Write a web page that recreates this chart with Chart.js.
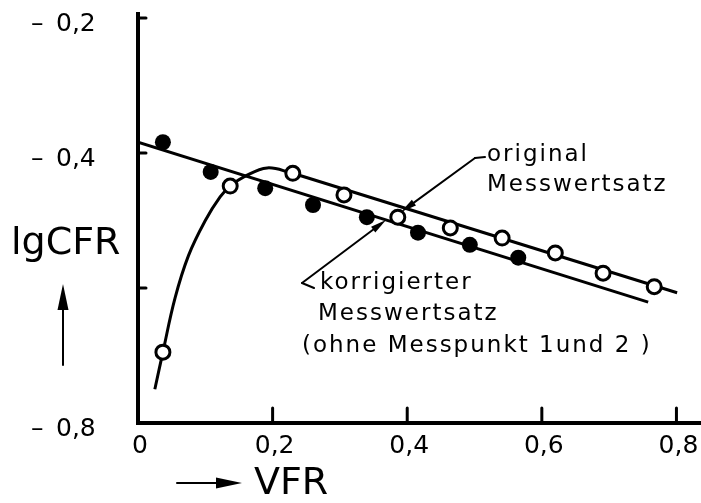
<!DOCTYPE html>
<html>
<head>
<meta charset="utf-8">
<script src="https://cdn.jsdelivr.net/npm/chart.js@4.4.1/dist/chart.umd.min.js"></script>
<style>
  html, body { margin: 0; padding: 0; background: #fff; }
  canvas { display: block; }
</style>
</head>
<body>
<canvas id="cfrChart" width="701" height="503"></canvas>
<script>
  // korrigierter Messwertsatz (filled points)
  const korrVFR = [0.037, 0.108, 0.189, 0.260, 0.340, 0.416, 0.493, 0.565];
  const korrLgCFR = [-0.384, -0.428, -0.452, -0.477, -0.495, -0.518, -0.536, -0.555];

  // original Messwertsatz (open points)
  const origVFR = [0.037, 0.137, 0.230, 0.306, 0.386, 0.464, 0.541, 0.620, 0.691, 0.767];
  const origLgCFR = [-0.695, -0.449, -0.430, -0.462, -0.495, -0.511, -0.526, -0.548, -0.578, -0.598];

  // hand-drawn fit through the original set: curved start, then straight
  const origCurveVFR = [0.025, 0.037, 0.055, 0.075, 0.100, 0.122, 0.137, 0.158, 0.192, 0.230];
  const origCurveLgCFR = [-0.750, -0.695, -0.615, -0.552, -0.500, -0.465, -0.449, -0.435, -0.422, -0.430];
  const origLineVFR = [0.230, 0.801];
  const origLineLgCFR = [-0.430, -0.607];

  // straight fit through the corrected set
  const korrLineVFR = [0.0, 0.758];
  const korrLineLgCFR = [-0.384, -0.621];

  // axis ticks and their printed labels (-0,6 is left unlabelled)
  const xTicks = [0, 0.2, 0.4, 0.6, 0.8];
  const xTickLabels = ['0', '0,2', '0,4', '0,6', '0,8'];
  const yTicks = [-0.2, -0.4, -0.6];
  const yLabelVals = [-0.2, -0.4, -0.8];
  const yLabelText = ['0,2', '0,4', '0,8'];

  const toPoints = (xs, ys) => xs.map((x, i) => ({ x: x, y: ys[i] }));

  const INK = '#000';
  const FONT = '"DejaVu Sans", "Liberation Sans", sans-serif';

  function arrow(ctx, x1, y1, x2, y2, headLen, headW) {
    const ang = Math.atan2(y2 - y1, x2 - x1);
    ctx.beginPath();
    ctx.moveTo(x1, y1);
    ctx.lineTo(x2 - Math.cos(ang) * headLen * 0.6, y2 - Math.sin(ang) * headLen * 0.6);
    ctx.stroke();
    ctx.beginPath();
    ctx.moveTo(x2, y2);
    ctx.lineTo(x2 - Math.cos(ang) * headLen + Math.sin(ang) * headW / 2,
               y2 - Math.sin(ang) * headLen - Math.cos(ang) * headW / 2);
    ctx.lineTo(x2 - Math.cos(ang) * headLen - Math.sin(ang) * headW / 2,
               y2 - Math.sin(ang) * headLen + Math.cos(ang) * headW / 2);
    ctx.closePath();
    ctx.fill();
  }

  // axes, ticks and tick labels drawn by hand (ticks point inward)
  const axesPlugin = {
    id: 'axesPlugin',
    beforeDatasetsDraw(chart) {
      const { ctx, chartArea: a, scales: { x, y } } = chart;
      ctx.save();
      ctx.strokeStyle = INK;
      ctx.fillStyle = INK;
      ctx.lineCap = 'square';
      ctx.lineWidth = 4;
      ctx.beginPath();
      ctx.moveTo(a.left, a.top);
      ctx.lineTo(a.left, a.bottom);
      ctx.lineTo(a.right, a.bottom);
      ctx.stroke();

      ctx.lineWidth = 3;
      ctx.lineCap = 'round';
      xTicks.slice(1).forEach(v => {
        const px = x.getPixelForValue(v);
        ctx.beginPath();
        ctx.moveTo(px, a.bottom);
        ctx.lineTo(px, a.bottom - 15);
        ctx.stroke();
      });
      yTicks.forEach(v => {
        const py = y.getPixelForValue(v);
        ctx.beginPath();
        ctx.moveTo(a.left, py);
        ctx.lineTo(a.left + 8, py);
        ctx.stroke();
      });

      ctx.font = '25px ' + FONT;
      ctx.textBaseline = 'middle';
      ctx.textAlign = 'center';
      xTicks.forEach((v, i) => {
        ctx.fillText(xTickLabels[i], x.getPixelForValue(v) + 2, a.bottom + 23);
      });
      ctx.textAlign = 'left';
      yLabelVals.forEach((v, i) => {
        const py = y.getPixelForValue(v) + 6;
        ctx.fillText('\u2013', 31, py);
        ctx.fillText(yLabelText[i], 56, py);
      });
      ctx.restore();
    },
    afterDraw(chart) {
      const { ctx } = chart;
      ctx.save();
      ctx.strokeStyle = INK;
      ctx.fillStyle = INK;
      ctx.lineCap = 'round';

      // axis titles with their arrows
      ctx.font = '38px ' + FONT;
      ctx.textBaseline = 'middle';
      ctx.textAlign = 'left';
      ctx.fillText('lgCFR', 11, 244);
      ctx.fillText('VFR', 254, 484);
      ctx.lineWidth = 2;
      arrow(ctx, 63, 365, 63, 284, 26, 11);
      arrow(ctx, 177, 483, 242, 483, 26, 11);

      // series annotations
      ctx.font = '23px ' + FONT;
      ctx.letterSpacing = '2px';
      ctx.fillText('original', 487, 155);
      ctx.fillText('Messwertsatz', 487, 185);
      ctx.fillText('korrigierter', 320, 283);
      ctx.fillText('Messwertsatz', 318, 314);
      ctx.fillText('(ohne Messpunkt 1und 2 )', 302, 346);
      ctx.letterSpacing = '0px';

      ctx.lineWidth = 2;
      ctx.beginPath();
      ctx.moveTo(485, 157);
      ctx.lineTo(475, 158);
      ctx.stroke();
      arrow(ctx, 475, 158, 401, 212, 16, 7);

      ctx.beginPath();
      ctx.moveTo(314, 288);
      ctx.lineTo(302, 283);
      ctx.stroke();
      arrow(ctx, 302, 283, 386, 220, 16, 7);
      ctx.restore();
    }
  };

  const lineStyle = {
    showLine: true,
    pointRadius: 0,
    borderColor: INK,
    borderWidth: 3,
    order: 2
  };

  const ctx = document.getElementById('cfrChart').getContext('2d');
  const cfrChart = new Chart(ctx, {
    type: 'scatter',
    data: {
      datasets: [
        {
          label: 'original Messwertsatz',
          data: toPoints(origVFR, origLgCFR),
          pointRadius: 7,
          pointBorderWidth: 3,
          pointBackgroundColor: '#fff',
          pointBorderColor: INK,
          order: 0
        },
        {
          label: 'korrigierter Messwertsatz',
          data: toPoints(korrVFR, korrLgCFR),
          pointRadius: 8,
          pointBorderWidth: 0,
          pointBackgroundColor: INK,
          pointBorderColor: INK,
          order: 1
        },
        Object.assign({ label: 'fit original (Anlauf)', data: toPoints(origCurveVFR, origCurveLgCFR), tension: 0.4 }, lineStyle),
        Object.assign({ label: 'fit original', data: toPoints(origLineVFR, origLineLgCFR) }, lineStyle),
        Object.assign({ label: 'fit korrigiert', data: toPoints(korrLineVFR, korrLineLgCFR) }, lineStyle)
      ]
    },
    options: {
      responsive: false,
      animation: false,
      events: [],
      layout: { autoPadding: false, padding: { left: 138, right: 1, top: 14, bottom: 80 } },
      plugins: {
        legend: { display: false },
        tooltip: { enabled: false }
      },
      scales: {
        x: { type: 'linear', min: 0, max: 0.835, display: false },
        y: { type: 'linear', min: -0.8, max: -0.194, display: false }
      }
    },
    plugins: [axesPlugin]
  });
</script>
</body>
</html>
